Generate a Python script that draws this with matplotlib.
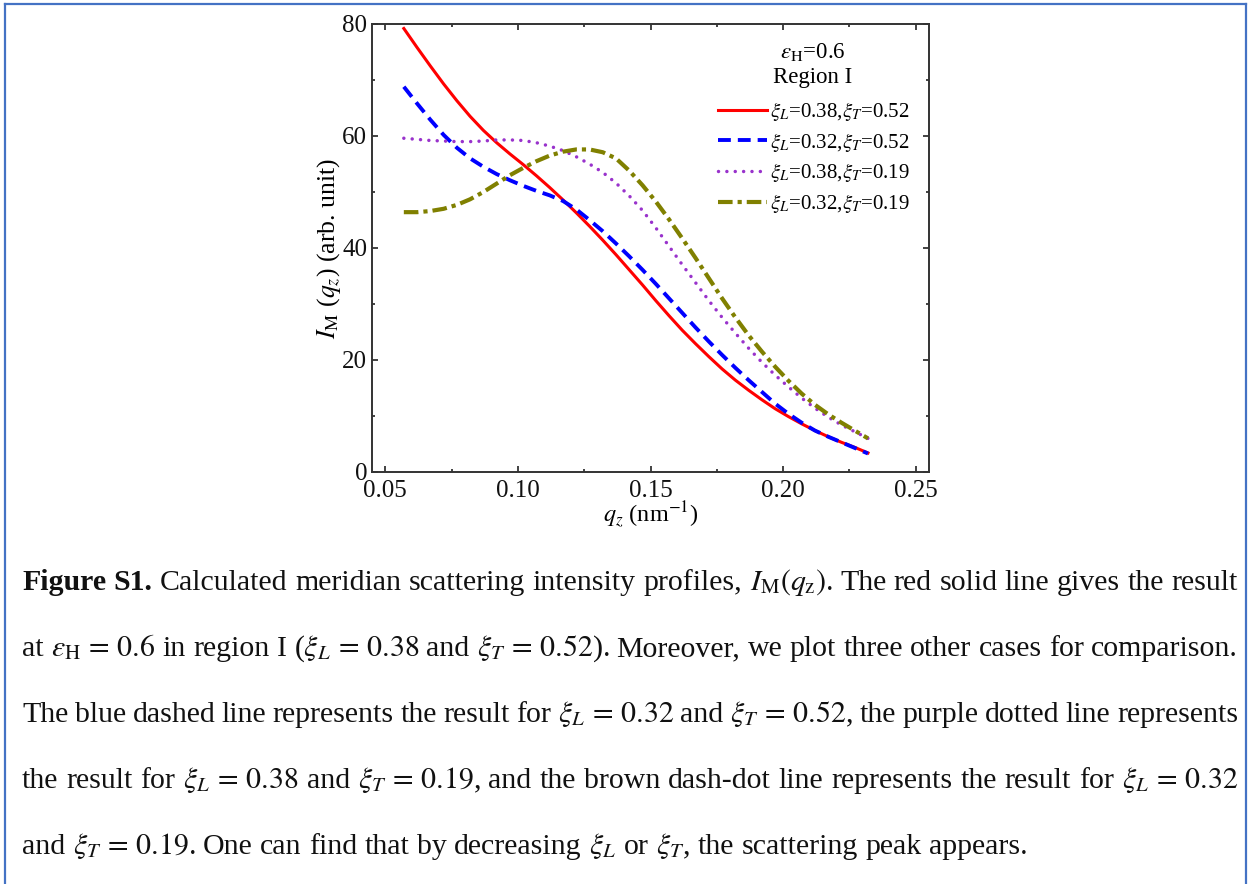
import re
import matplotlib
matplotlib.use('Agg')
import matplotlib.pyplot as plt
from matplotlib.ticker import MultipleLocator, FormatStrFormatter
from matplotlib.lines import Line2D

plt.rcParams['font.family'] = ['Liberation Serif', 'DejaVu Serif']
plt.rcParams['mathtext.fontset'] = 'stix'

# ---------------- data ----------------
q = [0.057, 0.062, 0.067, 0.072, 0.077, 0.082, 0.087, 0.092, 0.097, 0.102,
     0.107, 0.112, 0.117, 0.122, 0.127, 0.132, 0.137, 0.142, 0.147, 0.152,
     0.157, 0.162, 0.167, 0.172, 0.177, 0.182, 0.187, 0.192, 0.197, 0.202,
     0.207, 0.212, 0.217, 0.222, 0.227, 0.232]

red = [79.2, 75.8, 72.5, 69.3, 66.3, 63.5, 61.0, 58.8, 56.8, 54.9,
       52.9, 50.8, 48.6, 46.3, 43.9, 41.4, 38.8, 36.1, 33.4, 30.6,
       27.9, 25.3, 22.9, 20.6, 18.4, 16.4, 14.6, 12.9, 11.3, 9.9,
       8.6, 7.4, 6.3, 5.3, 4.4, 3.4]

blue = [68.8, 65.8, 62.9, 60.2, 57.9, 56.0, 54.5, 53.2, 52.1, 51.1,
        50.2, 49.4, 48.4, 46.9, 45.0, 43.0, 40.8, 38.5, 36.1, 33.6,
        31.0, 28.4, 25.8, 23.3, 20.9, 18.6, 16.4, 14.3, 12.2, 10.4,
        8.8, 7.4, 6.3, 5.3, 4.3, 3.3]

purple = [59.6, 59.4, 59.2, 59.1, 59.0, 59.0, 59.1, 59.3, 59.3, 59.2,
          58.8, 58.2, 57.4, 56.3, 55.0, 53.5, 51.6, 49.3, 46.7, 43.6,
          40.3, 37.0, 33.8, 30.6, 27.6, 24.8, 22.1, 19.6, 17.3, 15.2,
          13.2, 11.4, 9.8, 8.4, 7.2, 6.0]

olive = [46.4, 46.4, 46.6, 47.0, 47.7, 48.7, 50.0, 51.5, 53.0, 54.3,
         55.5, 56.5, 57.2, 57.6, 57.6, 57.1, 56.0, 53.8, 51.2, 48.3,
         45.1, 41.7, 38.2, 34.6, 31.0, 27.6, 24.4, 21.5, 18.8, 16.3,
         14.0, 12.0, 10.3, 8.8, 7.4, 6.0]

series_labels = [r'$\xi_L$=0.38,$\xi_T$=0.52',
                 r'$\xi_L$=0.32,$\xi_T$=0.52',
                 r'$\xi_L$=0.38,$\xi_T$=0.19',
                 r'$\xi_L$=0.32,$\xi_T$=0.19']
legend_header = [r'$\varepsilon_{\mathrm{H}}$=0.6', 'Region I']

x_ticks = [0.05, 0.10, 0.15, 0.20, 0.25]
y_ticks = [0, 20, 40, 60, 80]

caption_lines = [
    r"Figure S1. Calculated meridian scattering intensity profiles, $I_{\mathrm{M}}(q_{\mathrm{z}})$. The red solid line gives the result",
    r"at $\varepsilon_{\mathrm{H}}\,=\,0.6$ in region I ($\xi_L\,=\,0.38$ and $\xi_T\,=\,0.52$). Moreover, we plot three other cases for comparison.",
    r"The blue dashed line represents the result for $\xi_L\,=\,0.32$ and $\xi_T\,=\,0.52$, the purple dotted line represents",
    r"the result for $\xi_L\,=\,0.38$ and $\xi_T\,=\,0.19$, and the brown dash-dot line represents the result for $\xi_L\,=\,0.32$",
    r"and $\xi_T\,=\,0.19$. One can find that by decreasing $\xi_L$ or $\xi_T$, the scattering peak appears.",
]

# ---------------- figure ----------------
W, H = 1250, 884
fig = plt.figure(figsize=(12.5, 8.84), dpi=100)
ax = fig.add_axes([372 / W, 1 - 472 / H, (929 - 372) / W, (472 - 24) / H])

ax.plot(q, red, color='#FF0000', lw=2.2, label=series_labels[0])
ax.plot(q, blue, color='#0000FF', lw=2.8, linestyle=(0, (3.3, 1.8)),
        label=series_labels[1])
ax.plot(q, purple, color='#9932CC', lw=2.5, linestyle=(0, (0.01, 2.4)),
        dash_capstyle='round', label=series_labels[2])
ax.plot(q, olive, color='#808000', lw=3.0, linestyle=(0, (3.5, 1.2, 1.0, 1.2)),
        label=series_labels[3])

ax.set_xlim(0.045, 0.255)
ax.set_ylim(0, 80)
ax.set_xticks(x_ticks)
ax.set_yticks(y_ticks)
ax.xaxis.set_major_formatter(FormatStrFormatter('%.2f'))
ax.yaxis.set_major_formatter(FormatStrFormatter('%d'))
ax.xaxis.set_minor_locator(MultipleLocator(0.025))
ax.yaxis.set_minor_locator(MultipleLocator(10))
ax.tick_params(which='both', direction='in', top=True, right=True,
               labelsize=18, width=1.2, color='#222222', labelcolor='#111111')
ax.tick_params(which='major', length=4.5)
ax.tick_params(which='minor', length=2.5)
ax.tick_params(axis='x', pad=6)
ax.tick_params(axis='y', pad=3.5)
for sp in ax.spines.values():
    sp.set_linewidth(1.4)
    sp.set_color('#333333')

ax.set_xlabel(r'$q_z$ (nm$^{-1}$)', fontsize=17.5)
ax.xaxis.set_label_coords((651 - 372) / 557, (472 - 515) / 448)
ax.xaxis.label.set_va('center')
ax.set_ylabel(r'$I_{\mathrm{M}}$ ($q_z$) (arb. unit)', fontsize=18.5)
ax.yaxis.set_label_coords((329 - 372) / 557, (472 - 249) / 448)
ax.yaxis.label.set_va('center')

# legend header lines
ax.text((813 - 372) / 557, (472 - 52) / 448, legend_header[0], transform=ax.transAxes,
        ha='center', va='center', fontsize=16.5)
ax.text((813 - 372) / 557, (472 - 78) / 448, legend_header[1], transform=ax.transAxes,
        ha='center', va='center', fontsize=16.5)

leg = ax.legend(loc='upper right',
                bbox_to_anchor=((910 - 372) / 557, (472 - 100) / 448),
                frameon=False, fontsize=15, handlelength=2.35, handletextpad=0.15,
                labelspacing=0.37, borderpad=0, borderaxespad=0)

# ---------------- blue page border ----------------
bc = '#4472C4'
fig.add_artist(Line2D([4.5 / W, 4.5 / W], [0, 1 - 4 / H], transform=fig.transFigure, color=bc, lw=1.6))
fig.add_artist(Line2D([4.5 / W, 1246 / W], [1 - 4 / H, 1 - 4 / H], transform=fig.transFigure, color=bc, lw=1.6))
fig.add_artist(Line2D([1246 / W, 1246 / W], [0, 1 - 4 / H], transform=fig.transFigure, color=bc, lw=1.6))

# ---------------- justified caption ----------------
FS = 21.5
baselines = [590, 656, 722, 788, 854]
X0, X1 = 22, 1238
fig.canvas.draw()
renderer = fig.canvas.get_renderer()
tok_re = re.compile(r'(?:\$[^$]*\$|[^\s$])+')
space = FS * 100 / 72 * 0.25
for li, (line, yb) in enumerate(zip(caption_lines, baselines)):
    toks = tok_re.findall(line)
    objs = []
    for ti, tok in enumerate(toks):
        bold = (li == 0 and ti < 2)
        t = fig.text(0, 1 - yb / H, tok, fontsize=FS, ha='left', va='baseline',
                     fontweight='bold' if bold else 'normal', color='#111111')
        objs.append(t)
    widths = [t.get_window_extent(renderer=renderer).width for t in objs]
    if li < len(caption_lines) - 1:
        gap = (X1 - X0 - sum(widths)) / (len(objs) - 1)
    else:
        gap = space
    x = X0
    for t, w in zip(objs, widths):
        t.set_x(x / W)
        x += w + gap

fig.savefig('out.png', dpi=100)
